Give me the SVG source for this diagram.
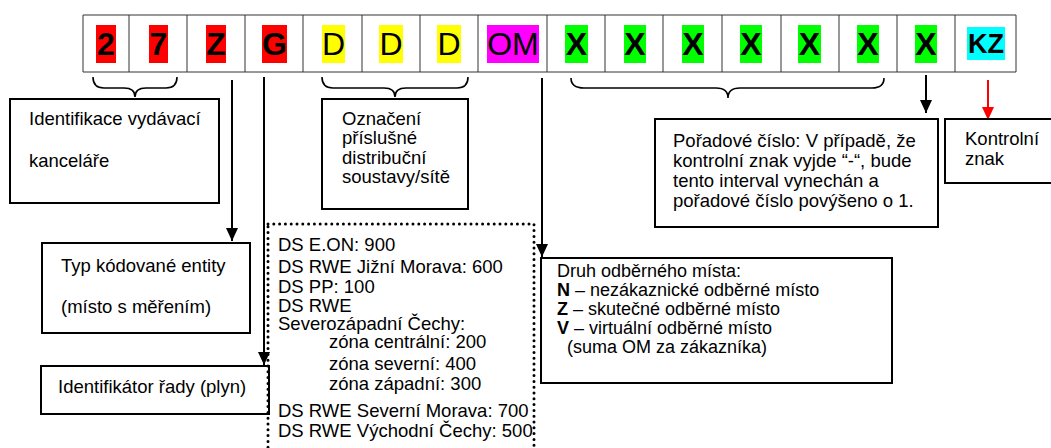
<svg xmlns="http://www.w3.org/2000/svg" width="1051" height="448" viewBox="0 0 1051 448">
<style>
text{font-family:"Liberation Sans",Arial,sans-serif;fill:#000}
.cell{font-size:32px;text-anchor:middle}
.b{font-weight:bold}
.t{font-size:18.5px}
.s{font-size:18px}
.box{fill:#fff;stroke:#000;stroke-width:2}
.grid{stroke:#333;stroke-width:1;fill:none}
.brace{fill:none;stroke:#000;stroke-width:1.6}
.arr{stroke:#000;stroke-width:2;fill:none}
</style>
<defs>
<marker id="ah" markerUnits="userSpaceOnUse" markerWidth="14" markerHeight="14" viewBox="0 0 14 14" refX="13" refY="7" orient="auto">
<path d="M0,1 L13,7 L0,13 Z" fill="#000"/>
</marker>
<marker id="ahr" markerUnits="userSpaceOnUse" markerWidth="14" markerHeight="14" viewBox="0 0 14 14" refX="13" refY="7" orient="auto">
<path d="M0,1 L13,7 L0,13 Z" fill="#f00"/>
</marker>
</defs>
<rect width="1051" height="448" fill="#fff"/>
<g id="code-table">
<rect x="96" y="25" width="20" height="38" fill="#f00"/>
<rect x="149" y="25" width="19" height="38" fill="#f00"/>
<rect x="206" y="25" width="20" height="38" fill="#f00"/>
<rect x="262" y="25" width="25" height="38" fill="#f00"/>
<rect x="322" y="25" width="23" height="38" fill="#ff0"/>
<rect x="379" y="25" width="24" height="38" fill="#ff0"/>
<rect x="437" y="25" width="24" height="38" fill="#ff0"/>
<rect x="487" y="25" width="52" height="38" fill="#f0f"/>
<rect x="565" y="25" width="23" height="38" fill="#0f0"/>
<rect x="624" y="25" width="22" height="38" fill="#0f0"/>
<rect x="682" y="25" width="22" height="38" fill="#0f0"/>
<rect x="740" y="25" width="22" height="38" fill="#0f0"/>
<rect x="798" y="25" width="23" height="38" fill="#0f0"/>
<rect x="857" y="25" width="22" height="38" fill="#0f0"/>
<rect x="915" y="25" width="22" height="38" fill="#0f0"/>
<rect x="967" y="27" width="38" height="33" fill="#0ff"/>
<path class="grid" d="M83,15 H1016 M83,72 H1016 M83,15 V72 M129,15 V72 M187,15 V72 M245,15 V72 M303,15 V72 M362,15 V72 M420,15 V72 M478,15 V72 M547,15 V72 M605,15 V72 M663,15 V72 M722,15 V72 M781,15 V72 M839,15 V72 M897,15 V72 M955,15 V72 M1016,15 V72"/>
<text class="cell b" x="106" y="55">2</text>
<text class="cell b" x="158.5" y="55">7</text>
<text class="cell b" x="216" y="55">Z</text>
<text class="cell b" x="274.5" y="55">G</text>
<text class="cell" x="333.5" y="55">D</text>
<text class="cell" x="391" y="55">D</text>
<text class="cell" x="449" y="55">D</text>
<text class="cell" x="513" y="55">OM</text>
<text class="cell b" x="576.5" y="55">X</text>
<text class="cell b" x="635" y="55">X</text>
<text class="cell b" x="693" y="55">X</text>
<text class="cell b" x="751" y="55">X</text>
<text class="cell b" x="809.5" y="55">X</text>
<text class="cell b" x="868" y="55">X</text>
<text class="cell b" x="926" y="55">X</text>
<text class="cell b" x="986" y="53" style="font-size:27px">KZ</text>
</g>
<g id="connectors">
<path class="brace" d="M93,77 Q93,88 104,88 L124,88 Q135,88 135,97 Q135,88 146,88 L166,88 Q177,88 177,77"/>
<path class="brace" d="M322,77 Q322,88 333,88 L384,88 Q395,88 395,97 Q395,88 406,88 L457,88 Q468,88 468,77"/>
<path class="brace" d="M571,78 Q571,88 584,88 L716,88 Q728,88 728,98 Q728,88 740,88 L872,88 Q884,88 884,78"/>
<line class="arr" x1="232" y1="80" x2="232" y2="241" marker-end="url(#ah)"/>
<line class="arr" x1="264" y1="77" x2="264" y2="365" marker-end="url(#ah)"/>
<line class="arr" x1="542" y1="78" x2="542" y2="257" marker-end="url(#ah)"/>
<line class="arr" x1="926" y1="75" x2="926" y2="113" marker-end="url(#ah)"/>
<line x1="988" y1="80" x2="988" y2="120" stroke="#f00" stroke-width="2" marker-end="url(#ahr)"/>
</g>
<g id="box-identifikace">
<rect class="box" x="10" y="99" width="209" height="104"/>
<text class="t" x="29" y="125">Identifikace vydávací</text>
<text class="t" x="29" y="167">kanceláře</text>
</g>
<g id="box-oznaceni">
<rect class="box" x="322" y="99" width="146" height="110"/>
<text class="t" x="342" y="125">Označení</text>
<text class="t" x="342" y="144">příslušné</text>
<text class="t" x="342" y="164">distribuční</text>
<text class="t" x="342" y="183">soustavy/sítě</text>
</g>
<g id="box-poradove">
<rect class="box" x="655" y="119" width="283" height="108"/>
<text class="t" x="673" y="147">Pořadové číslo: V případě, že</text>
<text class="t" x="673" y="167">kontrolní znak vyjde “-“, bude</text>
<text class="t" x="673" y="187">tento interval vynechán a</text>
<text class="t" x="673" y="207">pořadové číslo povýšeno o 1.</text>
</g>
<g id="box-kontrolni">
<rect class="box" x="945" y="119" width="120" height="64"/>
<text class="t" x="965" y="145">Kontrolní</text>
<text class="t" x="965" y="165">znak</text>
</g>
<g id="box-typ">
<rect class="box" x="42" y="243" width="208" height="90"/>
<text class="t" x="61" y="272">Typ kódované entity</text>
<text class="t" x="61" y="313">(místo s měřením)</text>
</g>
<g id="box-rady">
<rect class="box" x="41" y="366" width="228" height="48"/>
<text class="t" x="58" y="393">Identifikátor řady (plyn)</text>
</g>
<g id="box-ds">
<rect x="268" y="224" width="266" height="240" fill="none" stroke="#000" stroke-width="3" stroke-dasharray="0 5.8" stroke-linecap="round"/>
<text class="t" x="278" y="251">DS E.ON: 900</text>
<text class="t" x="278" y="273">DS RWE Jižní Morava: 600</text>
<text class="t" x="278" y="293">DS PP: 100</text>
<text class="t"><tspan x="278" y="312">DS RWE</tspan><tspan x="278" y="330">Severozápadní Čechy:</tspan><tspan x="329" y="348">zóna centrální: 200</tspan><tspan x="329" y="370">zóna severní: 400</tspan><tspan x="329" y="390">zóna západní: 300</tspan></text>
<text class="t" x="278" y="417">DS RWE Severní Morava: 700</text>
<text class="t" x="278" y="437">DS RWE Východní Čechy: 500</text>
</g>
<g id="box-druh">
<rect class="box" x="541" y="258" width="351" height="125"/>
<text class="s" x="557" y="277">Druh odběrného místa:</text>
<text class="s" x="557" y="296"><tspan class="b">N</tspan> – nezákaznické odběrné místo</text>
<text class="s" x="557" y="315"><tspan class="b">Z</tspan> – skutečné odběrné místo</text>
<text class="s" x="557" y="334"><tspan class="b">V</tspan> – virtuální odběrné místo</text>
<text class="s" x="567" y="353">(suma OM za zákazníka)</text>
</g>
</svg>
